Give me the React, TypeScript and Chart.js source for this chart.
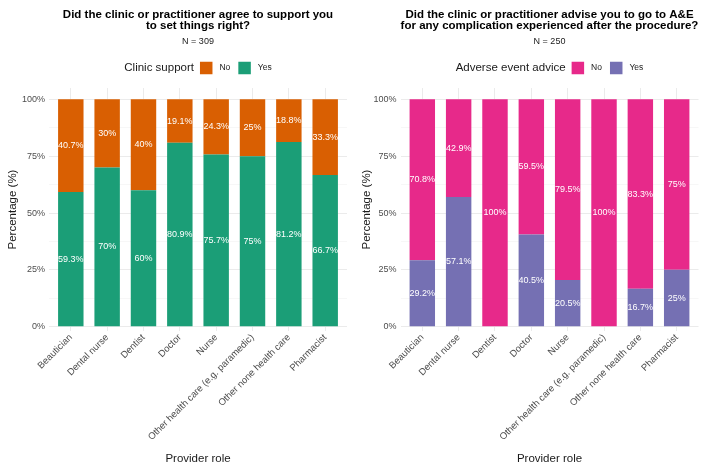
import React, { useEffect, useRef } from 'react';
import { Chart, registerables } from 'chart.js';

Chart.register(...registerables);

const providerRoles = [
  'Beautician',
  'Dental nurse',
  'Dentist',
  'Doctor',
  'Nurse',
  'Other health care (e.g. paramedic)',
  'Other none health care',
  'Pharmacist',
];
const supportYes = [59.3, 70, 60, 80.9, 75.7, 75, 81.2, 66.7];
const supportNo = [40.7, 30, 40, 19.1, 24.3, 25, 18.8, 33.3];
const adviceYes = [29.2, 57.1, 0, 40.5, 20.5, 0, 16.7, 25];
const adviceNo = [70.8, 42.9, 100, 59.5, 79.5, 100, 83.3, 75];
const yMajorTicks = [0, 25, 50, 75, 100];
const yMinorTicks = [12.5, 37.5, 62.5, 87.5];
const legendLabels = ['No', 'Yes'];

const FONT = '"Liberation Sans", Arial, sans-serif';

type PanelProps = {
  width: number;
  titleLines: string[];
  subtitle: string;
  legendTitle: string;
  yesValues: number[];
  noValues: number[];
  yesColor: string;
  noColor: string;
  yAxisWidth: number;
  padRight: number;
};

const headerPlugin = {
  id: 'headerLegend',
  afterDraw(chart: any, _args: any, opts: any) {
    const { ctx, chartArea } = chart;
    const cx = (chartArea.left + chartArea.right) / 2;
    ctx.save();
    ctx.textBaseline = 'middle';
    ctx.textAlign = 'center';
    ctx.fillStyle = '#000';
    ctx.font = `bold 11.5px ${FONT}`;
    opts.titleLines.forEach((t: string, i: number) => ctx.fillText(t, cx, 14.5 + i * 11.5));
    ctx.font = `9px ${FONT}`;
    ctx.fillStyle = '#1a1a1a';
    ctx.fillText(opts.subtitle, cx, 42);

    // legend
    const box = 12.5;
    ctx.font = `11.5px ${FONT}`;
    const tW = ctx.measureText(opts.legendTitle).width;
    ctx.font = `8.5px ${FONT}`;
    const noW = ctx.measureText(legendLabels[0]).width;
    const yesW = ctx.measureText(legendLabels[1]).width;
    const total = tW + 6 + box + 7 + noW + 8 + box + 7 + yesW;
    let x = cx - total / 2;
    const y = 68;
    ctx.textAlign = 'left';
    ctx.font = `11.5px ${FONT}`;
    ctx.fillStyle = '#1a1a1a';
    ctx.fillText(opts.legendTitle, x, y);
    x += tW + 6;
    ctx.fillStyle = opts.noColor;
    ctx.fillRect(x, y - box / 2, box, box);
    x += box + 7;
    ctx.font = `8.5px ${FONT}`;
    ctx.fillStyle = '#1a1a1a';
    ctx.fillText(legendLabels[0], x, y);
    x += noW + 8;
    ctx.fillStyle = opts.yesColor;
    ctx.fillRect(x, y - box / 2, box, box);
    x += box + 7;
    ctx.fillStyle = '#1a1a1a';
    ctx.fillText(legendLabels[1], x, y);
    ctx.restore();
  },
};

const barLabelPlugin = {
  id: 'barLabels',
  afterDatasetsDraw(chart: any) {
    const { ctx } = chart;
    ctx.save();
    ctx.font = `9px ${FONT}`;
    ctx.fillStyle = '#ffffff';
    ctx.textAlign = 'center';
    ctx.textBaseline = 'middle';
    chart.data.datasets.forEach((ds: any, di: number) => {
      const meta = chart.getDatasetMeta(di);
      meta.data.forEach((el: any, i: number) => {
        const v = ds.data[i].y;
        if (!v) return;
        ctx.fillText(`${v}%`, el.x, (el.y + el.base) / 2);
      });
    });
    ctx.restore();
  },
};

function Panel(props: PanelProps) {
  const ref = useRef<HTMLCanvasElement | null>(null);
  useEffect(() => {
    if (!ref.current) return;
    const chart = new Chart(ref.current, {
      type: 'bar',
      data: {
        datasets: [
          {
            label: 'Yes',
            data: providerRoles.map((_, i) => ({ x: i + 1, y: props.yesValues[i] })),
            backgroundColor: props.yesColor,
            categoryPercentage: 1,
            barPercentage: 0.7,
          },
          {
            label: 'No',
            data: providerRoles.map((_, i) => ({ x: i + 1, y: props.noValues[i] })),
            backgroundColor: props.noColor,
            categoryPercentage: 1,
            barPercentage: 0.7,
          },
        ],
      },
      options: {
        responsive: false,
        animation: false,
        layout: { padding: { top: 88, left: 0, right: props.padRight, bottom: 0 } },
        plugins: {
          legend: { display: false },
          tooltip: { enabled: false },
          headerLegend: {
            titleLines: props.titleLines,
            subtitle: props.subtitle,
            legendTitle: props.legendTitle,
            yesColor: props.yesColor,
            noColor: props.noColor,
          },
        } as any,
        scales: {
          x: {
            type: 'linear',
            min: 0.4,
            max: 8.6,
            offset: false,
            stacked: true,
            afterBuildTicks: (s: any) => {
              s.ticks = providerRoles.map((_, i) => ({ value: i + 1 }));
            },
            afterFit: (s: any) => {
              s.height = 139;
            },
            ticks: {
              callback: (v: any) => providerRoles[Number(v) - 1] ?? '',
              minRotation: 45,
              maxRotation: 45,
              autoSkip: false,
              color: '#4d4d4d',
              font: { size: 9.5, family: FONT },
              padding: 1,
            },
            grid: { color: '#ebebeb', drawTicks: false, offset: false },
            border: { display: false },
            title: {
              display: true,
              text: 'Provider role',
              color: '#1a1a1a',
              font: { size: 11.5, family: FONT },
              padding: { top: 0, bottom: 4 },
            },
          },
          y: {
            type: 'linear',
            stacked: true,
            min: -1.9,
            max: 105,
            afterBuildTicks: (s: any) => {
              s.ticks = [...yMajorTicks, ...yMinorTicks]
                .sort((a, b) => a - b)
                .map((v) => ({ value: v }));
            },
            afterFit: (s: any) => {
              s.width = props.yAxisWidth;
            },
            ticks: {
              callback: (v: any) => (yMajorTicks.includes(Number(v)) ? `${v}%` : ''),
              color: '#4d4d4d',
              font: { size: 9, family: FONT },
              padding: 4,
            },
            grid: {
              color: (c: any) => (yMajorTicks.includes(c.tick?.value) ? '#ebebeb' : '#f4f4f4'),
              lineWidth: (c: any) => (yMajorTicks.includes(c.tick?.value) ? 1 : 0.7),
              drawTicks: false,
            },
            border: { display: false },
            title: {
              display: true,
              text: 'Percentage (%)',
              color: '#1a1a1a',
              font: { size: 11.5, family: FONT },
              padding: { top: 6, bottom: 0 },
            },
          },
        },
      } as any,
      plugins: [headerPlugin, barLabelPlugin],
    });
    return () => chart.destroy();
  }, []);
  return (
    <canvas
      ref={ref}
      width={props.width}
      height={470}
      style={{ width: props.width, height: 470, display: 'block' }}
    />
  );
}

export default function App() {
  useEffect(() => {
    document.body.style.margin = '0';
  }, []);
  return (
    <div style={{ display: 'flex', width: 709, height: 470, background: '#fff' }}>
      <Panel
        width={354}
        titleLines={['Did the clinic or practitioner agree to support you', 'to set things right?']}
        subtitle="N = 309"
        legendTitle="Clinic support"
        yesValues={supportYes}
        noValues={supportNo}
        yesColor="#1B9E77"
        noColor="#D95F02"
        yAxisWidth={49}
        padRight={7}
      />
      <Panel
        width={355}
        titleLines={[
          'Did the clinic or practitioner advise you to go to A&E',
          'for any complication experienced after the procedure?',
        ]}
        subtitle="N = 250"
        legendTitle="Adverse event advice"
        yesValues={adviceYes}
        noValues={adviceNo}
        yesColor="#7570B3"
        noColor="#E7298A"
        yAxisWidth={46.5}
        padRight={10.5}
      />
    </div>
  );
}
